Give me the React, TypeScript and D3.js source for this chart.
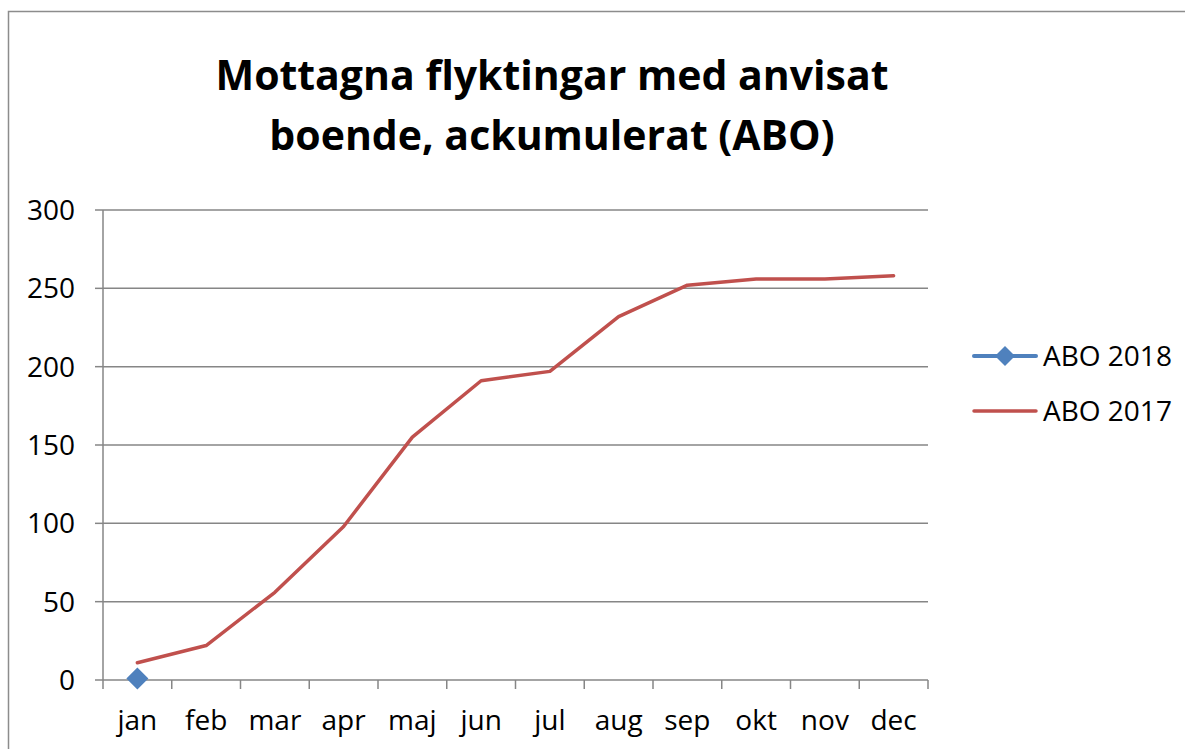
import React from "react";
import * as d3 from "d3";

const months = ["jan", "feb", "mar", "apr", "maj", "jun", "jul", "aug", "sep", "okt", "nov", "dec"];
const abo2017 = [11, 22, 56, 98, 155, 191, 197, 232, 252, 256, 256, 258];
const abo2018 = [1];
const yTicks = [0, 50, 100, 150, 200, 250, 300];
const titleLines = ["Mottagna flyktingar med anvisat", "boende, ackumulerat (ABO)"];
const legendItems = ["ABO 2018", "ABO 2017"];

const W = 1185;
const H = 749;
const plot = { left: 103, right: 928, top: 210, bottom: 680 };
const FONT = "'Open Sans', 'DejaVu Sans', sans-serif";
const AXIS = "#868686";
const RED = "#C0504D";
const BLUE = "#4F81BD";

export default function App() {
  const x = d3.scaleBand<string>().domain(months).range([plot.left, plot.right]).padding(0);
  const y = d3.scaleLinear().domain([0, 300]).range([plot.bottom, plot.top]);
  const cx = (m: string) => (x(m) ?? 0) + x.bandwidth() / 2;

  const line = d3
    .line<number>()
    .x((_, i) => cx(months[i]))
    .y((d) => y(d));

  const boundaries = months.map((m) => x(m) ?? 0).concat([plot.right]);
  const diamond = (px: number, py: number, r: number) =>
    `M${px},${py - r}L${px + r},${py}L${px},${py + r}L${px - r},${py}Z`;

  return (
    <svg width={W} height={H} style={{ position: "absolute", left: 0, top: 0, background: "#fff" }}>
      <rect x={8.5} y={11.5} width={1300} height={900} fill="#fff" stroke="#8c8c8c" strokeWidth={1.5} />
      {titleLines.map((t, i) => (
        <text
          key={t}
          x={552}
          y={90 + i * 60}
          textAnchor="middle"
          fontFamily={FONT}
          fontWeight={700}
          fontSize={41}
          fill="#000"
        >
          {t}
        </text>
      ))}
      {/* gridlines */}
      {yTicks.slice(1).map((t) => (
        <line key={t} x1={plot.left} x2={plot.right} y1={y(t)} y2={y(t)} stroke={AXIS} strokeWidth={1.5} />
      ))}
      {/* y axis */}
      <line x1={plot.left} x2={plot.left} y1={plot.top} y2={plot.bottom} stroke={AXIS} strokeWidth={1.5} />
      {yTicks.map((t) => (
        <g key={t}>
          <line x1={plot.left - 8} x2={plot.left} y1={y(t)} y2={y(t)} stroke={AXIS} strokeWidth={1.5} />
          <text
            x={75}
            y={y(t)}
            dy="0.36em"
            textAnchor="end"
            fontFamily={FONT}
            fontSize={28}
            fill="#000"
          >
            {t}
          </text>
        </g>
      ))}
      {/* x axis */}
      <line x1={plot.left} x2={plot.right} y1={plot.bottom} y2={plot.bottom} stroke={AXIS} strokeWidth={1.5} />
      {boundaries.map((b, i) => (
        <line key={i} x1={b} x2={b} y1={plot.bottom} y2={plot.bottom + 9} stroke={AXIS} strokeWidth={1.5} />
      ))}
      {months.map((m) => (
        <text key={m} x={cx(m)} y={730} textAnchor="middle" fontFamily={FONT} fontSize={28} fill="#000">
          {m}
        </text>
      ))}
      {/* series */}
      <path d={line(abo2017) ?? ""} fill="none" stroke={RED} strokeWidth={3.5} strokeLinejoin="round" strokeLinecap="round" />
      <path d={line(abo2018) ?? ""} fill="none" stroke={BLUE} strokeWidth={3.5} />
      {abo2018.map((v, i) => (
        <path key={i} d={diamond(cx(months[i]), y(v), 11)} fill={BLUE} />
      ))}
      {/* legend */}
      <line x1={974} x2={1036} y1={356} y2={356} stroke={BLUE} strokeWidth={4} strokeLinecap="round" />
      <path d={diamond(1005, 356, 10)} fill={BLUE} />
      <line x1={974} x2={1036} y1={411} y2={411} stroke={RED} strokeWidth={3.5} strokeLinecap="round" />
      {legendItems.map((t, i) => (
        <text key={t} x={1043} y={356 + i * 55} dy="0.36em" fontFamily={FONT} fontSize={28} fill="#000">
          {t}
        </text>
      ))}
    </svg>
  );
}
